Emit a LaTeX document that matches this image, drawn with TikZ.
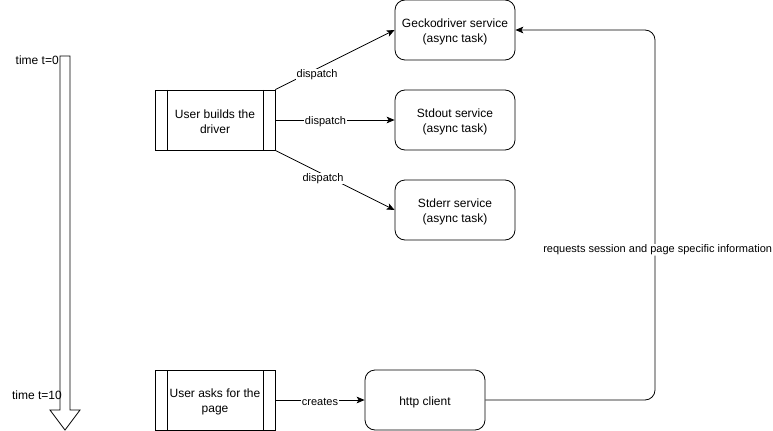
\documentclass[tikz,border=0pt]{standalone}
\usepackage{fontspec}
\setmainfont{Liberation Sans}
\usetikzlibrary{arrows.meta}
\begin{document}
\begin{tikzpicture}[x=0.75pt,y=-0.75pt,
  shapebox/.style={draw,minimum width=90pt,minimum height=45pt,inner sep=0pt,line width=0.6pt},
  rbox/.style={shapebox,rounded corners=7.5pt},
  inner/.style={align=center,font=\fontsize{9}{11.25}\selectfont,inner sep=0pt,yshift=-1.5pt},
  conn/.style={-{Stealth[length=6pt,width=5pt,inset=1.5pt]},line width=0.6pt},
  lbl/.style={fill=white,font=\fontsize{8.25}{10}\selectfont,inner sep=0.5pt,yshift=-1.2pt},
  txt/.style={font=\fontsize{9}{11}\selectfont,inner sep=0pt}]
\useasboundingbox (0,0) rectangle (773,431);
% time arrow
\draw[line width=0.6pt,fill=white] (60,56) -- (70,56) -- (70,410) -- (80,410) -- (65,430) -- (50,410) -- (60,410) -- cycle;
\node[txt,anchor=east] (t0) at (59,60) {time t=0};
\node[txt,anchor=east] (t10) at (62,395) {time t=10};
% boxes
\node[rbox,label={[inner]center:Geckodriver service\\(async task)}] (gecko) at (455,30) {};
\node[rbox,label={[inner]center:Stdout service\\(async task)}] (stdout) at (455,120) {};
\node[rbox,label={[inner]center:Stderr service\\(async task)}] (stderr) at (455,210) {};
\node[shapebox,label={[inner]center:User builds the\\driver}] (build) at (215,120) {};
\draw[line width=0.6pt] (167,90) -- (167,150) (263,90) -- (263,150);
\node[shapebox,label={[inner]center:User asks for the\\page}] (ask) at (215,400) {};
\draw[line width=0.6pt] (167,370) -- (167,430) (263,370) -- (263,430);
\node[rbox,label={[inner]center:http client}] (http) at (425,400) {};
% connectors
\draw[conn] (build.north east) -- node[lbl,pos=0.35,yshift=-3pt] {dispatch} (gecko.west);
\draw[conn] (build.east) -- node[lbl,pos=0.42] {dispatch} (stdout.west);
\draw[conn] (build.south east) -- node[lbl,pos=0.4,yshift=-2pt] {dispatch} (stderr.west);
\draw[conn] (ask.east) -- node[lbl] {creates} (http.west);
\coordinate (c1) at (655,400);
\coordinate (c2) at (655,30);
\draw[conn,rounded corners=7.5pt] (http.east) -- (c1) -- node[lbl,pos=0.41,xshift=2pt] {requests session and page specific information} (c2) -- (gecko.east);
\end{tikzpicture}
\end{document}
